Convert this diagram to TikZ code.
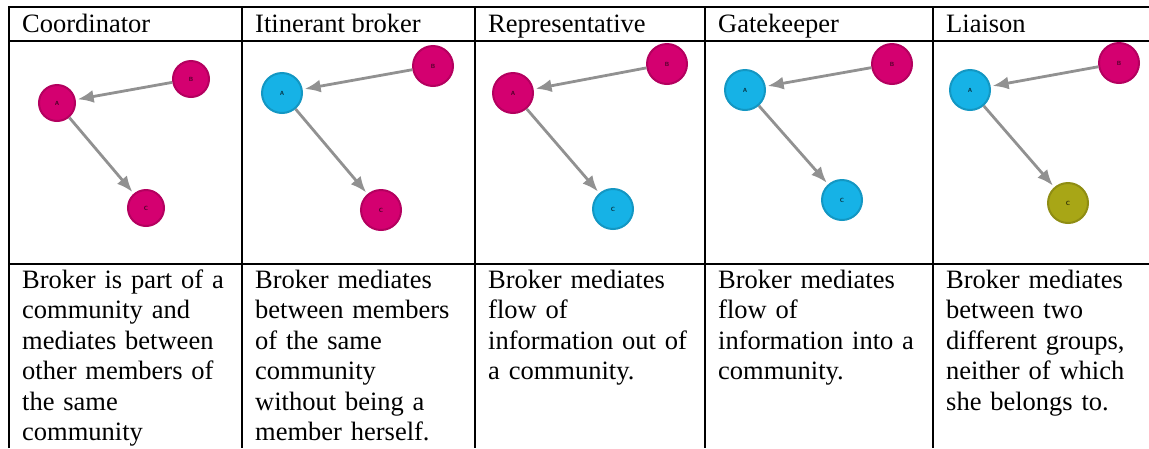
\documentclass[tikz,border=0pt]{standalone}
\usepackage{fontspec}
\setmainfont{Liberation Serif}
\usetikzlibrary{arrows.meta}
\definecolor{brokerpink}{RGB}{212,0,112}
\definecolor{brokerblue}{RGB}{22,178,230}
\definecolor{brokerolive}{RGB}{168,166,22}
\definecolor{edgegray}{RGB}{145,145,145}
\tikzset{
  member/.style={circle, inner sep=0pt, minimum size=40pt, line width=2pt,
    font=\sffamily\bfseries\fontsize{6}{6}\selectfont},
  pinkdot/.style={member, fill=brokerpink, draw=brokerpink!85!black, text=brokerpink!35!black},
  bluedot/.style={member, fill=brokerblue, draw=brokerblue!85!black, text=brokerblue!30!black},
  olivedot/.style={member, fill=brokerolive, draw=brokerolive!85!black, text=brokerolive!30!black},
  tie/.style={draw=edgegray, line width=2.8pt, -{Latex[length=16pt,width=13pt]}, shorten >=2pt},
  headtext/.style={anchor=base west, inner sep=0pt, font=\fontsize{26.5}{30.5}\selectfont},
  bodytext/.style={headtext, text width=215pt, align=left},
  gridline/.style={line width=2pt}
}
\begin{document}
\begin{tikzpicture}[x=1pt,y=-1pt]
\useasboundingbox (0,0) rectangle (1149,448);
\draw[gridline] (9,448) -- (9,7) -- (1149,7);
\draw[gridline] (9,40.5) -- (1149,40.5);
\draw[gridline] (9,264) -- (1149,264);
\draw[gridline] (242,7) -- (242,448);
\draw[gridline] (475,7) -- (475,448);
\draw[gridline] (705,7) -- (705,448);
\draw[gridline] (933,7) -- (933,448);
\node[headtext] (h1) at (22,32) {Coordinator};
\node[headtext] (h2) at (255,32) {Itinerant broker};
\node[headtext] (h3) at (488,32) {Representative};
\node[headtext] (h4) at (718,32) {Gatekeeper};
\node[headtext] (h5) at (946,32) {Liaison};
\node[pinkdot, minimum size=36pt] (A1) at (57,103) {A};
\node[pinkdot, minimum size=36pt] (B1) at (191,79) {B};
\node[pinkdot, minimum size=36pt] (C1) at (146,208) {C};
\draw[tie] (B1) -- (A1);
\draw[tie] (A1) -- (C1);
\node[bluedot] (A2) at (282,93) {A};
\node[pinkdot] (B2) at (433,66) {B};
\node[pinkdot] (C2) at (381,210) {C};
\draw[tie] (B2) -- (A2);
\draw[tie] (A2) -- (C2);
\node[pinkdot] (A3) at (513,93) {A};
\node[pinkdot] (B3) at (667,64) {B};
\node[bluedot] (C3) at (613,209) {C};
\draw[tie] (B3) -- (A3);
\draw[tie] (A3) -- (C3);
\node[bluedot] (A4) at (745,90) {A};
\node[pinkdot] (B4) at (892,64) {B};
\node[bluedot] (C4) at (842,200) {C};
\draw[tie] (B4) -- (A4);
\draw[tie] (A4) -- (C4);
\node[bluedot] (A5) at (970,90) {A};
\node[pinkdot] (B5) at (1119,63) {B};
\node[olivedot] (C5) at (1068,203) {C};
\draw[tie] (B5) -- (A5);
\draw[tie] (A5) -- (C5);
\node[bodytext] (d1) at (22,288) {Broker is part of a\\community and\\mediates between\\other members of\\the same\\community};
\node[bodytext] (d2) at (255,288) {Broker mediates\\between members\\of the same\\community\\without being a\\member herself.};
\node[bodytext] (d3) at (488,288) {Broker mediates\\flow of\\information out of\\a community.};
\node[bodytext] (d4) at (718,288) {Broker mediates\\flow of\\information into a\\community.};
\node[bodytext] (d5) at (946,288) {Broker mediates\\between two\\different groups,\\neither of which\\she belongs to.};
\end{tikzpicture}
\end{document}
